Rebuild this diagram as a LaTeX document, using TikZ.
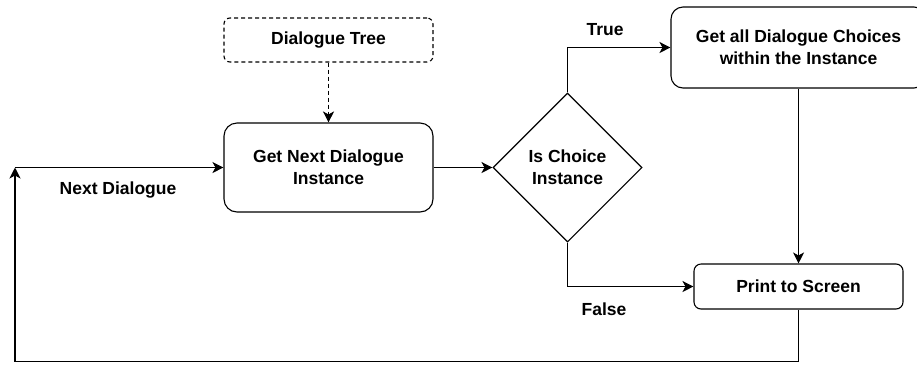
\documentclass[tikz,border=0pt]{standalone}
\usepackage{fontspec}
\setmainfont{Liberation Sans}
\usetikzlibrary{shapes.geometric,arrows.meta}

\tikzset{
  lbl/.style={font=\bfseries\fontsize{17.5}{22}\selectfont, align=center, inner sep=0pt},
  procbox/.style={draw, line width=1.1pt, rounded corners=#1, fill=white, lbl},
  procbox/.default=12pt,
  decision/.style={draw, line width=1.1pt, diamond, aspect=1, inner sep=0pt, lbl},
  conn/.style={line width=1.1pt, -{Stealth[length=11pt,width=11pt,inset=3pt]}},
}

\begin{document}
\begin{tikzpicture}[x=1pt, y=-1pt]
  \useasboundingbox (0,0) rectangle (917,365);
  \clip (0,0) rectangle (917,365);

  % process boxes
  \node[procbox=6pt, dashed, dash pattern=on 4pt off 3pt, minimum width=209pt, minimum height=44pt]
    (tree) at (328.5,40) {Dialogue Tree};
  \node[procbox=13pt, minimum width=209pt, minimum height=89pt]
    (getnext) at (328.5,167.5) {Get Next Dialogue\\Instance};
  \node[decision, minimum width=149pt, minimum height=149pt]
    (choice) at (567.5,167.5) {Is Choice\\Instance};
  \node[procbox=12pt, minimum width=255pt, minimum height=81pt]
    (getall) at (798.5,47.5) {Get all Dialogue Choices\\within the Instance};
  \node[procbox=7pt, minimum width=209pt, minimum height=45pt]
    (print) at (798.5,286.5) {Print to Screen};

  % loop-back corner points
  \coordinate (loopin) at (15,167.5);
  \coordinate (loopbase) at (15,361.5);

  % connectors
  \draw[conn, dashed, dash pattern=on 4pt off 3pt] (tree.south) -- (getnext.north);
  \draw[conn] (getnext.east) -- (choice.west);
  \draw[conn] (choice.north) |- (getall.west);
  \draw[conn] (getall.south) -- (getall.south |- print.north);
  \draw[conn] (choice.south) |- (print.west);
  \draw[conn] (print.south) |- (loopbase) -- (loopin);
  \draw[conn] (loopin) -- (getnext.west);

  % edge labels
  \node[lbl] (ltrue) at (605,30) {True};
  \node[lbl] (lfalse) at (604,309) {False};
  \node[lbl] (lnext) at (118,190) {Next Dialogue};
\end{tikzpicture}
\end{document}
